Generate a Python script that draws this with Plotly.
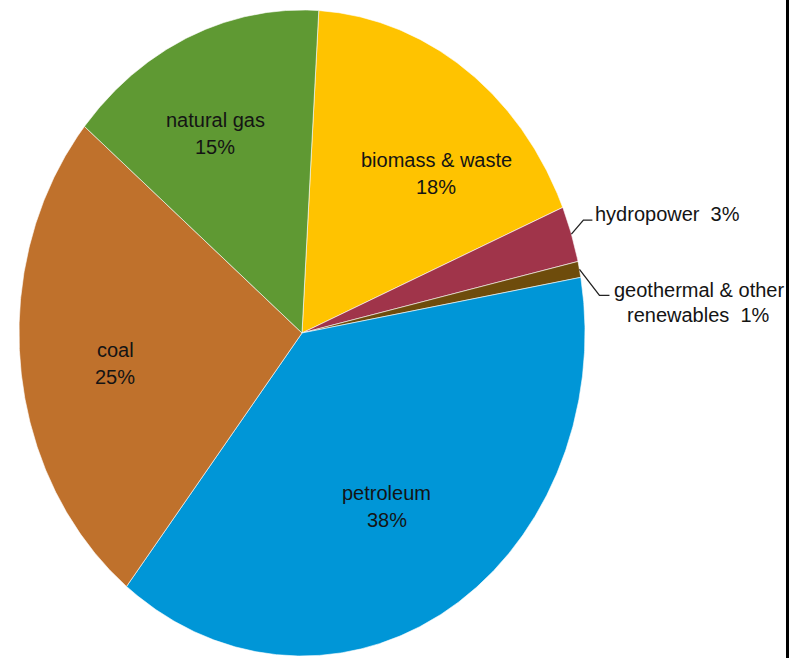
import numpy as np
import plotly.graph_objects as go

# ---------------- data ----------------
labels = ["biomass & waste", "hydropower", "geothermal & other renewables",
          "petroleum", "coal", "natural gas"]
values = [17.7, 2.8, 0.8, 38.4, 25.4, 14.9]
pct_text = ["18%", "3%", "1%", "38%", "25%", "15%"]
colors = ["#ffc300", "#a0344a", "#6e4c0c", "#0096d7", "#bf712c", "#5f9933"]

# ---------------- layout / style ----------------
W, H = 802, 658
CX, CY, RX, RY = 302, 333, 283, 323      # pie centre and radii (pixels)
START = 3.4                               # first slice starts this many deg clockwise from 12 o'clock
FONT = "Liberation Sans, Arial, sans-serif"
FS = 20
TXT = "#141414"

# inside label placement: (angle offset from slice middle in deg, radius fraction, line1)
inside = {
    "biomass & waste": (8.5, 0.685, "biomass & waste"),
    "petroleum": (1.7, 0.616, "petroleum"),
    "coal": (-2.2, 0.667, "coal"),
    "natural gas": (-3.0, 0.69, "natural gas"),
}
# outside labels: (elbow dx, elbow dy, tail length) in pixels
outside = {
    "hydropower": (12, -14, 9),
    "geothermal & other renewables": (20, 26, 10),
}

total = float(sum(values))
cum = np.concatenate([[0.0], np.cumsum(values)])
ang0 = START + cum[:-1] / total * 360.0
ang1 = START + cum[1:] / total * 360.0
mid = (ang0 + ang1) / 2.0

fig = go.Figure()


def to_xy(theta_deg, r=1.0):
    t = np.radians(theta_deg)
    return r * np.sin(t), r * np.cos(t)


for i, lab in enumerate(labels):
    n = max(4, int((ang1[i] - ang0[i]) * 3))
    th = np.linspace(ang0[i], ang1[i], n)
    ax, ay = to_xy(th)
    xs = np.concatenate([[0.0], ax, [0.0]])
    ys = np.concatenate([[0.0], ay, [0.0]])
    fig.add_trace(go.Scatter(x=xs, y=ys, fill="toself", fillcolor=colors[i],
                             mode="lines", line=dict(color="white", width=0.6),
                             hoverinfo="skip", showlegend=False))

annotations = []
for i, lab in enumerate(labels):
    if lab in inside:
        dth, r, line1 = inside[lab]
        x, y = to_xy(mid[i] + dth, r)
        for txt, ys in ((line1, 13.5), (pct_text[i], -13.5)):
            annotations.append(dict(x=x, y=y, xref="x", yref="y", text=txt,
                                    showarrow=False, xanchor="center", yanchor="middle",
                                    yshift=ys, font=dict(family=FONT, size=FS, color=TXT)))
    elif lab in outside:
        edx, edy, tail = outside[lab]
        x0, y0 = to_xy(mid[i], 1.0)
        x1, y1 = x0 + edx / RX, y0 - edy / RY
        x2, y2 = x1 + tail / RX, y1
        fig.add_trace(go.Scatter(x=[x0, x1, x2], y=[y0, y1, y2], mode="lines",
                                 line=dict(color="#222222", width=1.3),
                                 hoverinfo="skip", showlegend=False))
        if lab == "hydropower":
            annotations.append(dict(x=x2, y=y2, xref="x", yref="y",
                                    text="hydropower  " + pct_text[i], showarrow=False,
                                    xanchor="left", yanchor="middle", xshift=1, yshift=6,
                                    font=dict(family=FONT, size=FS, color=TXT)))
        else:
            annotations.append(dict(x=x2, y=y2, xref="x", yref="y",
                                    text="geothermal & other", showarrow=False,
                                    xanchor="left", yanchor="middle", xshift=3, yshift=5,
                                    font=dict(family=FONT, size=FS, color=TXT)))
            annotations.append(dict(x=x2, y=y2, xref="x", yref="y",
                                    text="renewables  " + pct_text[i], showarrow=False,
                                    xanchor="center", yanchor="middle", xshift=89, yshift=-20,
                                    font=dict(family=FONT, size=FS, color=TXT)))

fig.update_layout(
    width=W, height=H, autosize=False,
    margin=dict(l=0, r=0, t=0, b=0),
    paper_bgcolor="white", plot_bgcolor="white",
    xaxis=dict(range=[-CX / RX, (W - CX) / RX], visible=False, fixedrange=True),
    yaxis=dict(range=[(CY - H) / RY, CY / RY], visible=False, fixedrange=True),
    annotations=annotations,
    shapes=[dict(type="line", xref="paper", yref="paper", x0=787.5 / W, x1=787.5 / W,
                 y0=0, y1=1, line=dict(color="black", width=3))],
    showlegend=False,
)

fig.write_html("out.html")
